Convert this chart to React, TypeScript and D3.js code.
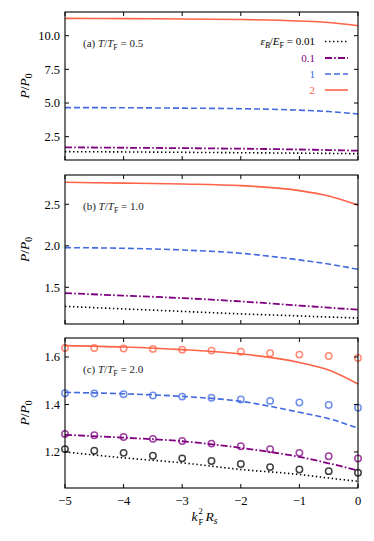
import React from 'react';
import * as d3 from 'd3';

// x positions of curve samples and of the markers
const lineX = [-5, -4, -3, -2, -1, -0.5, 0];
const markX = [-5, -4.5, -4, -3.5, -3, -2.5, -2, -1.5, -1, -0.5, 0];

// panel (a) T/TF = 0.5
const a_001 = [1.39, 1.37, 1.34, 1.31, 1.28, 1.26, 1.24];
const a_01 = [1.71, 1.68, 1.65, 1.61, 1.55, 1.51, 1.46];
const a_1 = [4.66, 4.65, 4.62, 4.58, 4.47, 4.37, 4.19];
const a_2 = [11.29, 11.27, 11.24, 11.2, 11.09, 10.98, 10.74];

// panel (b) T/TF = 1.0
const b_001 = [1.27, 1.24, 1.21, 1.18, 1.155, 1.142, 1.13];
const b_01 = [1.43, 1.4, 1.37, 1.33, 1.28, 1.255, 1.23];
const b_1 = [1.978, 1.97, 1.95, 1.91, 1.83, 1.78, 1.716];
const b_2 = [2.765, 2.755, 2.745, 2.725, 2.665, 2.6, 2.49];

// panel (c) T/TF = 2.0
const c_001 = [1.2, 1.175, 1.154, 1.126, 1.105, 1.09, 1.076];
const c_01 = [1.272, 1.26, 1.245, 1.217, 1.179, 1.152, 1.122];
const c_1 = [1.451, 1.445, 1.434, 1.413, 1.367, 1.34, 1.3];
const c_2 = [1.648, 1.642, 1.631, 1.613, 1.577, 1.545, 1.486];

// panel (c) markers
const cm_001 = [1.212, 1.205, 1.196, 1.184, 1.173, 1.162, 1.149, 1.136, 1.126, 1.119, 1.112];
const cm_01 = [1.276, 1.27, 1.263, 1.255, 1.246, 1.235, 1.224, 1.211, 1.196, 1.182, 1.172];
const cm_1 = [1.447, 1.446, 1.443, 1.438, 1.433, 1.428, 1.421, 1.415, 1.408, 1.398, 1.386];
const cm_2 = [1.638, 1.638, 1.636, 1.634, 1.631, 1.627, 1.622, 1.616, 1.61, 1.604, 1.596];

const xTicks = [-5, -4, -3, -2, -1, 0];
const legendLabels = ['0.01', '0.1', '1', '2'];

const styles = [
  { color: '#000000', dash: '1.4 2.6', width: 1.6 },
  { color: '#800080', dash: '7 2.2 1.6 2.2', width: 1.8 },
  { color: '#4169e1', dash: '6 3', width: 1.6 },
  { color: '#ff6347', dash: null, width: 1.6 },
];

const panels = [
  { tag: '(a)', temp: '0.5', top: 12, bottom: 160, domain: [0.77, 11.76], ticks: [2.5, 5, 7.5, 10], fmt: '.1f', lines: [a_001, a_01, a_1, a_2], marks: null },
  { tag: '(b)', temp: '1.0', top: 175, bottom: 324, domain: [1.058, 2.853], ticks: [1.5, 2, 2.5], fmt: '.1f', lines: [b_001, b_01, b_1, b_2], marks: null },
  { tag: '(c)', temp: '2.0', top: 338, bottom: 488, domain: [1.048, 1.68], ticks: [1.2, 1.4, 1.6], fmt: '.1f', lines: [c_001, c_01, c_1, c_2], marks: [cm_001, cm_01, cm_1, cm_2] },
];

const left = 65;
const right = 358;
const font = 'Liberation Serif, DejaVu Serif, serif';

const x = d3.scaleLinear().domain([-5, 0]).range([left, right]);

const Panel = ({ p, last }) => {
  const y = d3.scaleLinear().domain(p.domain).range([p.bottom, p.top]);
  const line = d3.line<number>()
    .x((d, i) => x(lineX[i]))
    .y(d => y(d))
    .curve(d3.curveMonotoneX);
  const mid = (p.top + p.bottom) / 2;
  const tk = 4;

  return (
    <g>
      <defs>
        <clipPath id={'clip' + p.tag}>
          <rect x={left} y={p.top} width={right - left} height={p.bottom - p.top} />
        </clipPath>
      </defs>
      <g clipPath={`url(#clip${p.tag})`}>
        {p.lines.map((vals, i) => (
          <path key={i} d={line(vals)} fill="none" stroke={styles[i].color}
            strokeWidth={styles[i].width} strokeDasharray={styles[i].dash || undefined} />
        ))}
        {p.marks && p.marks.map((vals, i) => vals.map((v, j) => (
          <circle key={i + '-' + j} cx={x(markX[j])} cy={y(v)} r={3.2} fill="none"
            stroke={styles[i].color} strokeOpacity={0.75} strokeWidth={1.5} />
        )))}
      </g>
      <rect x={left} y={p.top} width={right - left} height={p.bottom - p.top} fill="none" stroke="#000" strokeWidth={1.1} />
      {xTicks.map(t => (
        <g key={t}>
          <line x1={x(t)} x2={x(t)} y1={p.bottom} y2={p.bottom - tk} stroke="#000" />
          <line x1={x(t)} x2={x(t)} y1={p.top} y2={p.top + tk} stroke="#000" />
          {last && (
            <text x={x(t)} y={p.bottom + 17} textAnchor="middle" fontFamily={font} fontSize={12.5}>
              {t < 0 ? '\u2212' + Math.abs(t) : t}
            </text>
          )}
        </g>
      ))}
      {p.ticks.map(t => (
        <g key={t}>
          <line x1={left} x2={left + tk} y1={y(t)} y2={y(t)} stroke="#000" />
          <line x1={right} x2={right - tk} y1={y(t)} y2={y(t)} stroke="#000" />
          <text x={left - 5} y={y(t)} dy="0.35em" textAnchor="end" fontFamily={font} fontSize={12.5}>
            {d3.format(p.fmt)(t)}
          </text>
        </g>
      ))}
      <text transform={`translate(29,${mid}) rotate(-90)`} textAnchor="middle" fontFamily={font} fontSize={13.5}>
        <tspan fontStyle="italic">P</tspan>/<tspan fontStyle="italic">P</tspan>
        <tspan fontSize={9.5} dy={3}>0</tspan>
      </text>
      <text x={83} y={p.top + 35} fontFamily={font} fontSize={11} fill="#222">
        {p.tag} <tspan fontStyle="italic">T</tspan>/<tspan fontStyle="italic">T</tspan>
        <tspan fontSize={8} dy={2.5}>F</tspan>
        <tspan dy={-2.5}> = {p.temp}</tspan>
      </text>
    </g>
  );
};

const Legend = () => {
  const ys = [41.5, 58, 74, 90];
  return (
    <g>
      {legendLabels.map((lab, i) => (
        <g key={lab}>
          <line x1={325} x2={348} y1={ys[i]} y2={ys[i]} stroke={styles[i].color}
            strokeWidth={styles[i].width} strokeDasharray={styles[i].dash || undefined} />
          {i === 0 ? (
            <text x={315} y={ys[i]} dy="0.35em" textAnchor="end" fontFamily={font} fontSize={11}>
              <tspan fontStyle="italic">ε</tspan><tspan fontSize={8} fontStyle="italic" dy={2.5}>B</tspan>
              <tspan dy={-2.5}>/</tspan><tspan fontStyle="italic">E</tspan>
              <tspan fontSize={8} dy={2.5}>F</tspan><tspan dy={-2.5}> = {lab}</tspan>
            </text>
          ) : (
            <text x={315} y={ys[i]} dy="0.35em" textAnchor="end" fontFamily={font} fontSize={11} fill={styles[i].color}>
              {lab}
            </text>
          )}
        </g>
      ))}
    </g>
  );
};

export default function App() {
  const cx = (left + right) / 2;
  return (
    <svg width={374} height={541} style={{ position: 'absolute', left: 0, top: 0, background: '#fff' }}>
      {panels.map((p, i) => (
        <Panel key={p.tag} p={p} last={i === panels.length - 1} />
      ))}
      <Legend />
      {/* x label: k, stacked 2 over F, R, s */}
      <g fontFamily={font}>
        <text x={cx - 14} y={521} fontSize={13.5} fontStyle="italic" textAnchor="end">k</text>
        <text x={cx - 13} y={514} fontSize={8.5}>2</text>
        <text x={cx - 13} y={525} fontSize={8.5}>F</text>
        <text x={cx - 6} y={521} fontSize={13.5} fontStyle="italic">
          R<tspan fontSize={9.5} dy={3}>s</tspan>
        </text>
      </g>
    </svg>
  );
}
